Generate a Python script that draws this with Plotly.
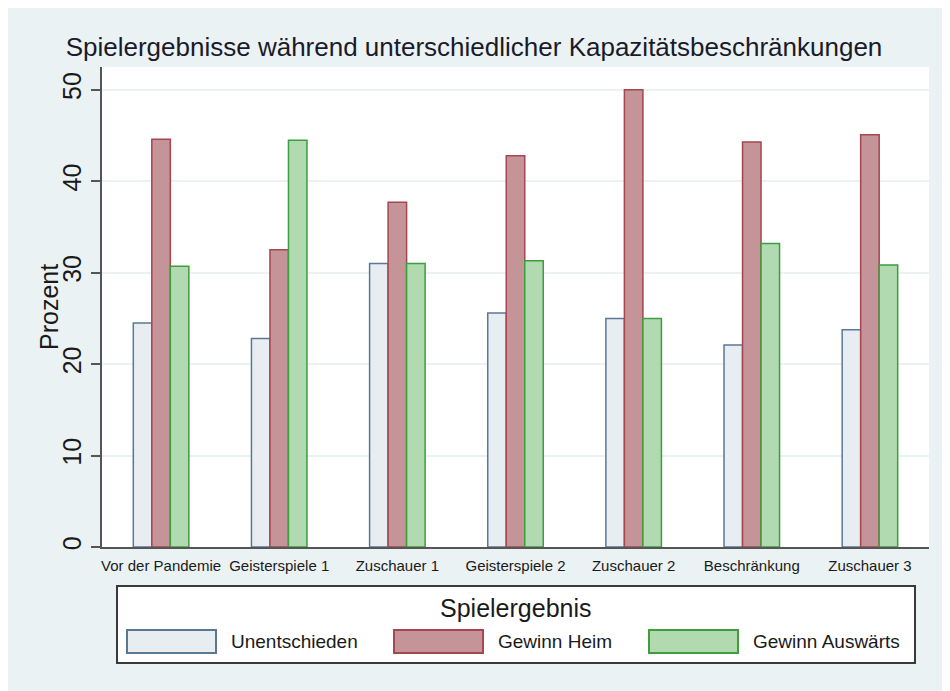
import plotly.graph_objects as go

categories = ["Vor der Pandemie", "Geisterspiele 1", "Zuschauer 1", "Geisterspiele 2",
              "Zuschauer 2", "Beschränkung", "Zuschauer 3"]
series_names = ["Unentschieden", "Gewinn Heim", "Gewinn Auswärts"]
unentschieden = [24.5, 22.8, 31.0, 25.6, 25.0, 22.1, 23.75]
gewinn_heim = [44.6, 32.5, 37.7, 42.8, 50.0, 44.3, 45.1]
gewinn_auswaerts = [30.7, 44.5, 31.0, 31.3, 25.0, 33.2, 30.85]
y_ticks = [0, 10, 20, 30, 40, 50]

fills = ["#e8edf1", "#c49498", "#b2dab0"]
lines = ["#5a7896", "#a54650", "#3c9e3c"]
values = [unentschieden, gewinn_heim, gewinn_auswaerts]

W, H = 950, 691
OX, OY = 7, 8  # page offset of the figure in the screenshot
L, R, T, B = 101 - OX, 928 - OX, 67 - OY, 547 - OY
FONT = "Liberation Sans, Arial, sans-serif"

def px(x):
    return (x - OX - L) / (R - L)

def py(y):
    return (B - (y - OY)) / (B - T)

fig = go.Figure()
for name, vals, fc, lc in zip(series_names, values, fills, lines):
    fig.add_trace(go.Bar(x=categories, y=vals, name=name,
                         marker=dict(color=fc, line=dict(color=lc, width=1.5)),
                         showlegend=False))

shapes = []
annotations = []
# legend box
shapes.append(dict(type="rect", xref="paper", yref="paper", x0=px(116), x1=px(914), y0=py(586), y1=py(663),
                   fillcolor="white", line=dict(color="#3a3a3a", width=2), layer="above"))
annotations.append(dict(text="Spielergebnis", xref="paper", yref="paper", x=px(515), y=py(608),
                        showarrow=False, xanchor="center", yanchor="middle",
                        font=dict(family=FONT, size=25, color="#1a1a1a")))
sw_x = [126, 393, 648]
for name, fc, lc, sx in zip(series_names, fills, lines, sw_x):
    shapes.append(dict(type="rect", xref="paper", yref="paper", x0=px(sx), x1=px(sx + 89),
                       y0=py(630), y1=py(653), fillcolor=fc, line=dict(color=lc, width=2), layer="above"))
    annotations.append(dict(text=name, xref="paper", yref="paper", x=px(sx + 102), y=py(641.5),
                            showarrow=False, xanchor="left", yanchor="middle",
                            font=dict(family=FONT, size=19, color="#1a1a1a")))
annotations.append(dict(text="Prozent", xref="paper", yref="paper", x=px(48), y=py(307),
                        showarrow=False, xanchor="center", yanchor="middle", textangle=-90,
                        font=dict(family=FONT, size=25, color="#1a1a1a")))

fig.update_layout(
    width=W, height=H,
    margin=dict(l=L, r=W - R, t=T, b=H - B, pad=0),
    paper_bgcolor="#eaf2f3", plot_bgcolor="white",
    barmode="group", bargap=0.53, bargroupgap=0.0,
    title=dict(text="Spielergebnisse während unterschiedlicher Kapazitätsbeschränkungen",
               x=(473 - OX) / W, xanchor="center", y=1 - (47 - OY) / H, yanchor="middle",
               font=dict(family=FONT, size=26, color="#1a1a2a")),
    shapes=shapes, annotations=annotations,
    font=dict(family=FONT),
)
fig.update_xaxes(showline=True, linecolor="#555555", linewidth=2, ticks="", ticklabelstandoff=4,
                 tickfont=dict(family=FONT, size=15, color="#1a1a1a"), showgrid=False)
fig.update_yaxes(range=[0, 52.5], tickvals=y_ticks, tickangle=-90, ticks="outside", ticklen=9,
                 tickcolor="#555555", tickwidth=1.5,
                 showline=True, linecolor="#555555", linewidth=2, showgrid=True,
                 gridcolor="#eaf2f3", gridwidth=1.5, zeroline=False,
                 tickfont=dict(family=FONT, size=25, color="#1a1a1a"))

fig.write_html("out.html")
